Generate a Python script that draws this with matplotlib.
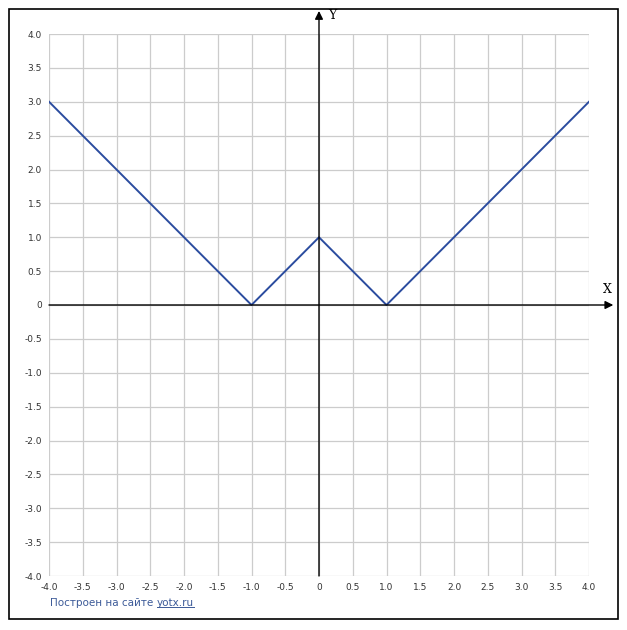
import numpy as np
import matplotlib.pyplot as plt
from matplotlib.patches import Rectangle
from matplotlib.lines import Line2D

# y = ||x| - 1|, broken line vertices
line_x = [-4.0, -1.0, 0.0, 1.0, 4.0]
line_y = [3.0, 0.0, 1.0, 0.0, 3.0]

ticks = [-4.0, -3.5, -3.0, -2.5, -2.0, -1.5, -1.0, -0.5, 0.0,
         0.5, 1.0, 1.5, 2.0, 2.5, 3.0, 3.5, 4.0]
tick_labels = ["0" if t == 0 else f"{t:.1f}" for t in ticks]

W, H = 627, 630
fig = plt.figure(figsize=(W / 100, H / 100), dpi=100)
fig.patch.set_facecolor("white")

# outer frame
fig.add_artist(Rectangle((9 / W, 1 - 619 / H), 609 / W, 610 / H,
                         transform=fig.transFigure, fill=False,
                         edgecolor="black", linewidth=1.2))

ax = fig.add_axes([49 / W, 1 - 576 / H, 540 / W, 542 / H])
ax.set_xlim(-4, 4)
ax.set_ylim(-4, 4)
for s in ax.spines.values():
    s.set_visible(False)

ax.set_xticks(ticks)
ax.set_yticks(ticks)
ax.set_xticklabels(tick_labels)
ax.set_yticklabels(tick_labels)
ax.tick_params(length=0, labelsize=6.5, labelcolor="#333333", pad=5)
ax.grid(True, color="#cccccc", linewidth=0.9)
ax.set_axisbelow(True)

# axes with arrows
ax.annotate("", xy=(4.36, 0), xytext=(-4, 0), annotation_clip=False,
            arrowprops=dict(arrowstyle="-|>", color="black", lw=1.0,
                            mutation_scale=12, shrinkA=0, shrinkB=0))
ax.annotate("", xy=(0, 4.34), xytext=(0, -4), annotation_clip=False,
            arrowprops=dict(arrowstyle="-|>", color="black", lw=1.0,
                            mutation_scale=12, shrinkA=0, shrinkB=0))
ax.text(4.27, 0.13, "X", family="DejaVu Serif", fontsize=9, ha="center", va="bottom", clip_on=False)
ax.text(0.2, 4.28, "Y", family="DejaVu Serif", fontsize=9, ha="center", va="center", clip_on=False)

ax.plot(line_x, line_y, color="#2b4c9f", linewidth=1.4)

# credit line
t1 = fig.text(50 / W, 1 - 603 / H, "Построен на сайте ", color="#3c5a98",
              fontsize=7.5, va="center", ha="left")
fig.canvas.draw()
bb = t1.get_window_extent()
t2 = fig.text(bb.x1 / W, 1 - 603 / H, "yotx.ru", color="#3c5a98",
              fontsize=7.5, va="center", ha="left")
fig.canvas.draw()
bb2 = t2.get_window_extent()
fig.add_artist(Line2D([bb2.x0 / W, bb2.x1 / W], [(bb2.y0 + 1) / H] * 2,
                      transform=fig.transFigure, color="#3c5a98", linewidth=0.7))

fig.savefig("out.png", dpi=100)
